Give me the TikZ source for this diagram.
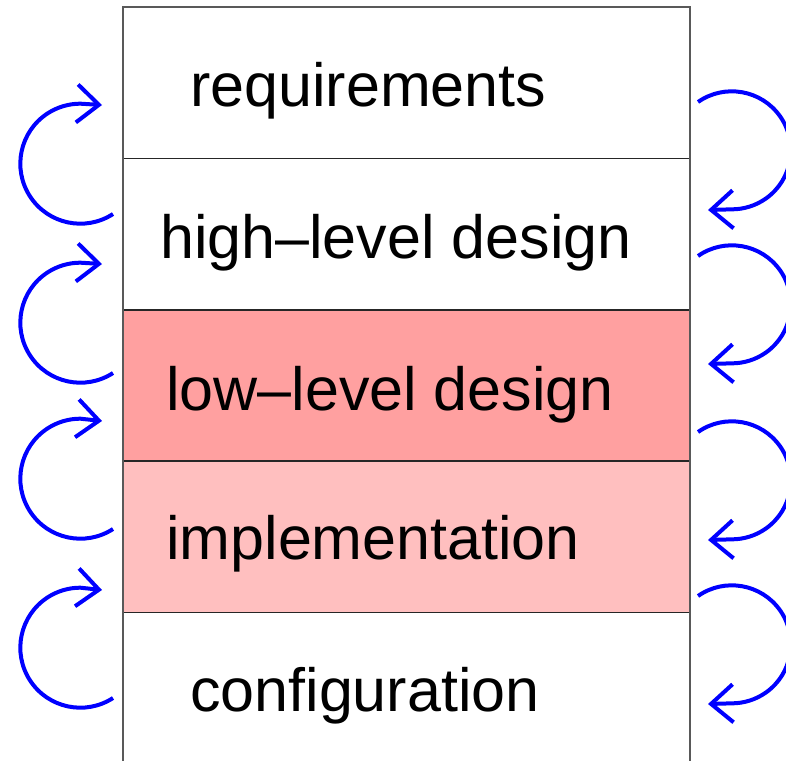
\documentclass[tikz,border=0pt]{standalone}
\usepackage{fontspec}
\setmainfont{Liberation Sans}
\usetikzlibrary{positioning,arrows.meta}
\definecolor{lowred}{RGB}{255,160,160}
\definecolor{implred}{RGB}{255,191,191}

\begin{document}
\begin{tikzpicture}[x=1pt,y=-1pt]
		\tikzstyle{row}=[rectangle, draw=black!85, line width=1.5pt, minimum width=567pt, minimum height=151.4pt, inner sep=0pt, outer sep=0pt]
		\tikzstyle{phase}=[anchor=base west, inner sep=0pt, font=\fontsize{61}{73}\selectfont]
		\tikzstyle{rework}=[draw=blue, line width=4pt, -{Straight Barb[length=22pt, width=38pt, sharp]}]
		\useasboundingbox (0,0) rectangle (786,760);
		
		\node[row, anchor=north west]     (rq) at (123,7) {};
		\node[row]                        (hl) [below=0pt of rq] {};
		\node[row, fill=lowred]           (ll) [below=0pt of hl] {};
		\node[row, fill=implred]          (im) [below=0pt of ll] {};
		\node[row, minimum height=160pt]  (cf) [below=0pt of im] {};
		\draw[black!65, line width=2pt] (cf.south west) -- (rq.north west) -- (rq.north east) -- (cf.south east);
		
		\node[phase] (rqt) at (190,106.6) {requirements};
		\node[phase] (hlt) at (160,258)   {high--level design};
		\node[phase] (llt) at (166,410)   {low--level design};
		\node[phase] (imt) at (166,559.5) {implementation};
		\node[phase] (cft) at (190,711)   {configuration};
		
		% loops on the left
		\coordinate (ls1) at (113,214); \coordinate (lt1) at (102,105);
		\coordinate (ls2) at (113,373); \coordinate (lt2) at (102,264);
		\coordinate (ls3) at (113,529); \coordinate (lt3) at (102,421);
		\coordinate (ls4) at (113,698); \coordinate (lt4) at (102,590);
		% loops on the right
		\coordinate (rs1) at (698,102); \coordinate (rt1) at (708,210);
		\coordinate (rs2) at (698,256); \coordinate (rt2) at (708,364);
		\coordinate (rs3) at (698,432); \coordinate (rt3) at (708,540);
		\coordinate (rs4) at (698,596); \coordinate (rt4) at (708,704);
		
		\draw[rework] (ls1) arc[start angle=57, end angle=270, radius=60] -- (lt1);
		\draw[rework] (ls2) arc[start angle=57, end angle=270, radius=60] -- (lt2);
		\draw[rework] (ls3) arc[start angle=57, end angle=270, radius=60] -- (lt3);
		\draw[rework] (ls4) arc[start angle=57, end angle=270, radius=60] -- (lt4);
		
		\draw[rework] (rs1) arc[start angle=235, end angle=450, radius=59] -- (rt1);
		\draw[rework] (rs2) arc[start angle=235, end angle=450, radius=59] -- (rt2);
		\draw[rework] (rs3) arc[start angle=235, end angle=450, radius=59] -- (rt3);
		\draw[rework] (rs4) arc[start angle=235, end angle=450, radius=59] -- (rt4);
		
\end{tikzpicture}
\end{document}
